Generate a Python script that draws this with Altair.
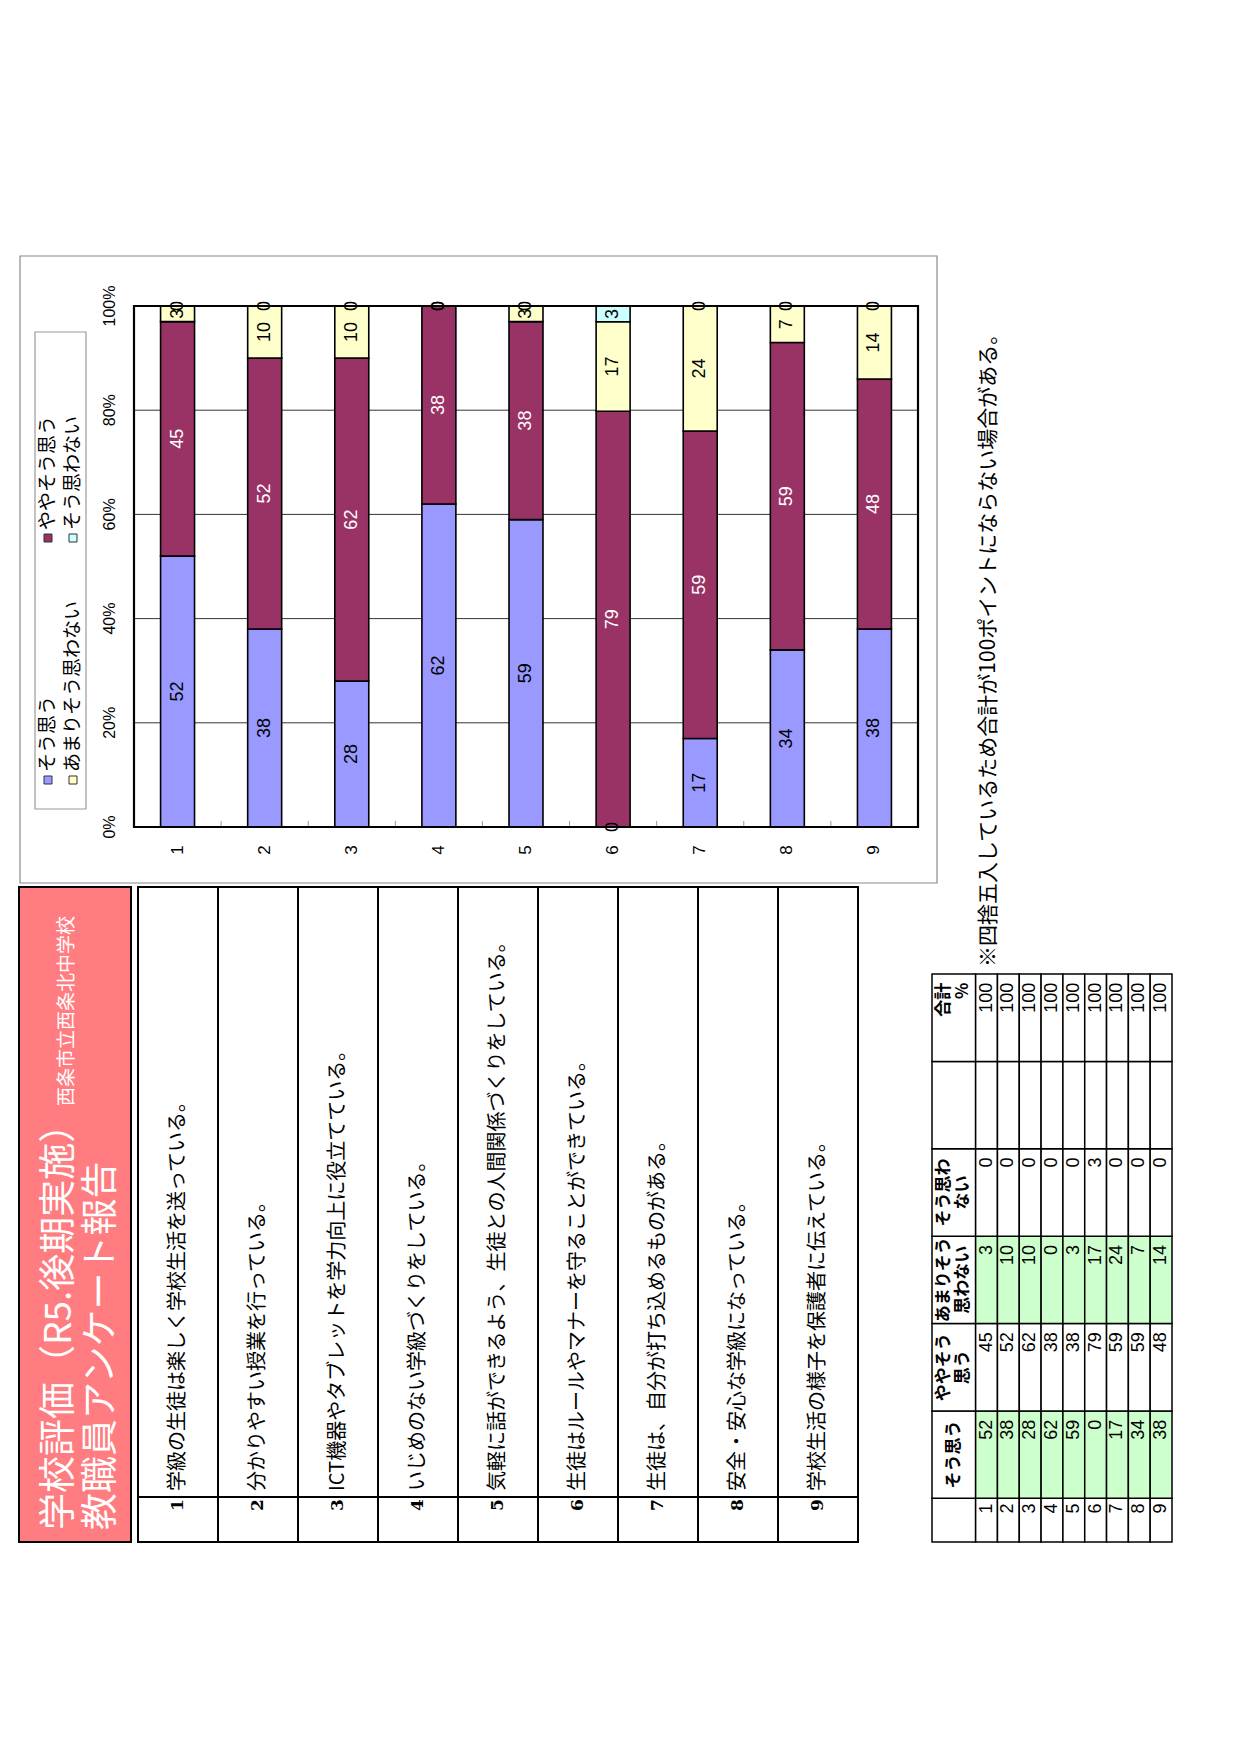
import altair as alt
import pandas as pd

# ---------------- data ----------------
q_ids = [1, 2, 3, 4, 5, 6, 7, 8, 9]
questions = [
    "学級の生徒は楽しく学校生活を送っている。",
    "分かりやすい授業を行っている。",
    "ICT機器やタブレットを学力向上に役立てている。",
    "いじめのない学級づくりをしている。",
    "気軽に話ができるよう、生徒との人間関係づくりをしている。",
    "生徒はルールやマナーを守ることができている。",
    "生徒は、自分が打ち込めるものがある。",
    "安全・安心な学級になっている。",
    "学校生活の様子を保護者に伝えている。",
]
categories = ["そう思う", "ややそう思う", "あまりそう思わない", "そう思わない"]
sou_omou = [52, 38, 28, 62, 59, 0, 17, 34, 38]
yaya_sou_omou = [45, 52, 62, 38, 38, 79, 59, 59, 48]
amari_sou_omowanai = [3, 10, 10, 0, 3, 17, 24, 7, 14]
sou_omowanai = [0, 0, 0, 0, 0, 3, 0, 0, 0]
totals = [100, 100, 100, 100, 100, 100, 100, 100, 100]
pct_ticks = [0, 20, 40, 60, 80, 100]
pct_labels = ["0%", "20%", "40%", "60%", "80%", "100%"]
title_main = "学校評価（R5.後期実施）"
title_school = "西条市立西条北中学校"
title_sub = "教職員アンケート報告"
note_text = "※四捨五入しているため合計が100ポイントにならない場合がある。"
table_headers = ["", "そう思う", "ややそう\n思う", "あまりそう\n思わない", "そう思わ\nない", "", "合計\n%"]

colors = ["#9999FF", "#993366", "#FFFFCC", "#CCFFFF"]
label_colors = ["#000000", "#FFFFFF", "#000000", "#000000"]

JP = "Noto Sans CJK JP"
LAT = "Liberation Sans"

# ---------------- tables ----------------
qs = [str(q) for q in q_ids]
series = [sou_omou, yaya_sou_omou, amari_sou_omowanai, sou_omowanai]
rows = []
for k, (cat, vals) in enumerate(zip(categories, series)):
    for q, v in zip(qs, vals):
        rows.append({"qs": q, "cat": cat, "ord": k, "value": v})
bar_df = pd.DataFrame(rows)

# ---------------- layout (page px -> chart px) ----------------
M = 8


def P(v):
    return v - M


def box(x0, x1, y0, y1, fill, stroke, sw, fop=1.0):
    return alt.Chart(pd.DataFrame({"k": [0]})).mark_rect(
        fill=fill, fillOpacity=fop, stroke=stroke, strokeWidth=sw
    ).encode(x=alt.value(x0), x2=alt.value(x1), y=alt.value(y0), y2=alt.value(y1))


def lin(dom, rng):
    return alt.Scale(domain=dom, range=rng, nice=False, zero=False)


x_band = alt.Scale(type="band", domain=qs, range=[P(134), P(918)],
                   paddingInner=0.61, paddingOuter=0.305)
y_pct = lin([0, 1], [P(827), P(306)])

layers = []

# chart frame and legend box
layers.append(box(P(20), P(937), P(256), P(883), "#FFFFFF", "#8a8a8a", 1.2))
layers.append(box(P(35), P(86), P(332), P(809), "#FFFFFF", "#9a9a9a", 1.2))

# gridlines
grid_df = pd.DataFrame({"g": [t / 100 for t in pct_ticks if 0 < t < 100]})
layers.append(alt.Chart(grid_df).mark_rule(color="#000000", strokeWidth=0.8).encode(
    y=alt.Y("g:Q", scale=y_pct, axis=None), x=alt.value(P(134)), x2=alt.value(P(918))))

# bars
layers.append(alt.Chart(bar_df).mark_bar(stroke="#000000", strokeWidth=1.6).encode(
    x=alt.X("qs:N", scale=x_band, axis=None),
    y=alt.Y("value:Q", stack="normalize", scale=y_pct, axis=None),
    color=alt.Color("cat:N", scale=alt.Scale(domain=categories, range=colors), legend=None),
    order=alt.Order("ord:Q", sort="ascending"),
))

# plot border
layers.append(box(P(134), P(918), P(306), P(827), "#FFFFFF", "#000000", 2.2, fop=0.0))

# inner x ticks between categories
xt_df = pd.DataFrame({"b": list(range(1, len(q_ids)))})
layers.append(alt.Chart(xt_df).mark_rule(color="#999999", strokeWidth=1).encode(
    x=alt.X("b:Q", scale=lin([0, len(q_ids)], [P(134), P(918)]), axis=None),
    y=alt.value(P(821)), y2=alt.value(P(826))))

# bar labels
layers.append(
    alt.Chart(bar_df)
    .transform_stack(stack="value", groupby=["qs"], as_=["v0", "v1"],
                     sort=[alt.SortField("ord", order="ascending")], offset="normalize")
    .transform_calculate(mid="(datum.v0 + datum.v1) / 2")
    .mark_text(angle=270, align="center", baseline="middle", fontSize=18, font=LAT)
    .encode(
        x=alt.X("qs:N", scale=x_band, axis=None),
        y=alt.Y("mid:Q", scale=y_pct, axis=None),
        text=alt.Text("value:Q"),
        color=alt.Color("cat:N", scale=alt.Scale(domain=categories, range=label_colors), legend=None),
    )
)

# y-axis labels
yl_df = pd.DataFrame({"v": [t / 100 for t in pct_ticks], "lab": pct_labels})
layers.append(alt.Chart(yl_df).mark_text(angle=270, align="center", baseline="middle",
                                         fontSize=16, font=LAT).encode(
    y=alt.Y("v:Q", scale=y_pct, axis=None), x=alt.value(P(110)), text="lab:N"))

# category labels
layers.append(alt.Chart(pd.DataFrame({"qs": qs})).mark_text(
    angle=270, align="center", baseline="middle", fontSize=17, font=LAT).encode(
    x=alt.X("qs:N", scale=x_band, axis=None), y=alt.value(P(850)), text="qs:N"))

# legend
leg_df = pd.DataFrame({"cat": categories, "col": [0, 0, 1, 1], "slot": [0, 1, 0, 1]})
leg_x = lin([0, 1], [P(48), P(73)])
leg_y = lin([0, 1], [P(780), P(538)])
layers.append(alt.Chart(leg_df).mark_square(size=64, stroke="#333333", strokeWidth=1, opacity=1).encode(
    x=alt.X("col:Q", scale=leg_x, axis=None), y=alt.Y("slot:Q", scale=leg_y, axis=None),
    color=alt.Color("cat:N", scale=alt.Scale(domain=categories, range=colors), legend=None)))
layers.append(alt.Chart(leg_df).mark_text(angle=270, align="left", baseline="middle", dx=8,
                                          fontSize=19, font=JP, color="#000000").encode(
    x=alt.X("col:Q", scale=leg_x, axis=None), y=alt.Y("slot:Q", scale=leg_y, axis=None),
    text="cat:N"))

# note
layers.append(alt.Chart(pd.DataFrame({"t": [note_text]})).mark_text(
    angle=270, align="left", baseline="middle", fontSize=21, font=JP, color="#000000").encode(
    x=alt.value(P(989)), y=alt.value(P(967)), text="t:N"))

# title box
layers.append(box(P(19), P(131), P(887), P(1542), "#FF7C80", "#000000", 2))
layers.append(alt.Chart(pd.DataFrame({"t": [title_main]})).mark_text(
    angle=270, align="left", baseline="middle", fontSize=37, font=JP, color="#FFFFFF").encode(
    x=alt.value(P(60)), y=alt.value(P(1530)), text="t:N"))
layers.append(alt.Chart(pd.DataFrame({"t": [title_school]})).mark_text(
    angle=270, align="left", baseline="middle", fontSize=19, font=JP, color="#FFFFFF").encode(
    x=alt.value(P(67)), y=alt.value(P(1106)), text="t:N"))
layers.append(alt.Chart(pd.DataFrame({"t": [title_sub]})).mark_text(
    angle=270, align="left", baseline="middle", fontSize=37, font=JP, color="#FFFFFF").encode(
    x=alt.value(P(102)), y=alt.value(P(1530)), text="t:N"))

# question table
qt_x = alt.Scale(type="band", domain=qs, range=[P(138), P(858)], paddingInner=0, paddingOuter=0)
qt_y = lin([0, 1], [P(1542), P(887)])
q_df = pd.DataFrame({"qs": qs, "text": questions, "y0": 0, "y1": 1})
layers.append(alt.Chart(q_df).mark_rect(fill="#FFFFFF", stroke="#000000", strokeWidth=2).encode(
    x=alt.X("qs:N", scale=qt_x, axis=None),
    y=alt.Y("y0:Q", scale=qt_y, axis=None), y2="y1:Q"))
layers.append(alt.Chart(pd.DataFrame({"k": [0]})).mark_rule(color="#000000", strokeWidth=2).encode(
    x=alt.value(P(138)), x2=alt.value(P(858)), y=alt.value(P(1497))))
layers.append(alt.Chart(q_df).mark_text(angle=270, align="left", baseline="middle", fontSize=17,
                                        font="DejaVu Serif", fontWeight="bold", color="#000000").encode(
    x=alt.X("qs:N", scale=qt_x, axis=None), y=alt.value(P(1511)), text="qs:N"))
layers.append(alt.Chart(q_df).mark_text(angle=270, align="left", baseline="middle", fontSize=20,
                                        font=JP, color="#000000").encode(
    x=alt.X("qs:N", scale=qt_x, axis=None), y=alt.value(P(1491)), text="text:N"))

# data table
dt_cols = [None, sou_omou, yaya_sou_omou, amari_sou_omowanai, sou_omowanai, None, totals]
cells = []
for r in range(len(table_headers)):
    y0 = 0 if r == 0 else r - 0.5
    y1 = 0.5 if r == 0 else r + 0.5
    for c in range(len(q_ids) + 1):
        x0 = 0 if c == 0 else c + 1
        x1 = 2 if c == 0 else c + 2
        if c == 0:
            txt, kind = table_headers[r], "header"
        else:
            kind = "num"
            if r == 0:
                txt = qs[c - 1]
            elif dt_cols[r] is None:
                txt = ""
            else:
                txt = str(dt_cols[r][c - 1])
        cells.append({
            "x0": x0, "x1": x1, "y0": y0, "y1": y1,
            "xm": (x0 + x1) / 2, "ym": (y0 + y1) / 2,
            "ytop": y1 - (0.06 if r == 0 else 0.1),
            "fillkey": "g" if (r in (1, 3) and c > 0) else "w",
            "txt": txt, "kind": kind, "r": r,
            "multi": "\n" in txt,
        })
dt_df = pd.DataFrame(cells)
dt_x = lin([0, len(q_ids) + 2], [P(932), P(1172)])
dt_y = lin([0, 6.5], [P(1542), P(974)])
layers.append(alt.Chart(dt_df).mark_rect(stroke="#000000", strokeWidth=1.5).encode(
    x=alt.X("x0:Q", scale=dt_x, axis=None), x2="x1:Q",
    y=alt.Y("y0:Q", scale=dt_y, axis=None), y2="y1:Q",
    color=alt.Color("fillkey:N", scale=alt.Scale(domain=["g", "w"], range=["#CCFFCC", "#FFFFFF"]), legend=None)))
layers.append(alt.Chart(dt_df).transform_filter("datum.kind == 'num' && datum.txt != ''").mark_text(
    angle=270, align="right", baseline="middle", fontSize=18, font=LAT, color="#000000").encode(
    x=alt.X("xm:Q", scale=dt_x, axis=None), y=alt.Y("ytop:Q", scale=dt_y, axis=None), text="txt:N"))
# single-line header
layers.append(alt.Chart(dt_df).transform_filter(
    "datum.kind == 'header' && datum.txt != '' && !datum.multi").mark_text(
    angle=270, align="center", baseline="middle", fontSize=17, font=JP, fontWeight="bold",
    color="#000000").encode(
    x=alt.X("xm:Q", scale=dt_x, axis=None), y=alt.Y("ym:Q", scale=dt_y, axis=None), text="txt:N"))
# two-line headers (centred)
layers.append(alt.Chart(dt_df).transform_filter(
    "datum.kind == 'header' && datum.multi && datum.r < 6").mark_text(
    angle=270, align="center", baseline="middle", fontSize=17, font=JP, fontWeight="bold",
    lineBreak="\n", lineHeight=19, dy=-9.5, color="#000000").encode(
    x=alt.X("xm:Q", scale=dt_x, axis=None), y=alt.Y("ym:Q", scale=dt_y, axis=None), text="txt:N"))
# total header (right aligned)
layers.append(alt.Chart(dt_df).transform_filter("datum.kind == 'header' && datum.r == 6").mark_text(
    angle=270, align="right", baseline="middle", fontSize=17, font=JP, fontWeight="bold",
    lineBreak="\n", lineHeight=19, dy=-9.5, color="#000000").encode(
    x=alt.X("xm:Q", scale=dt_x, axis=None), y=alt.Y("ytop:Q", scale=dt_y, axis=None), text="txt:N"))

chart = (
    alt.layer(*layers)
    .resolve_scale(x="independent", y="independent", color="independent")
    .properties(width=1224, height=1738, autosize=alt.AutoSizeParams(type="none"),
                padding=0, background="#FFFFFF")
    .configure_view(strokeWidth=0)
)

chart.save("out.html", embed_options={"renderer": "svg", "actions": False})
